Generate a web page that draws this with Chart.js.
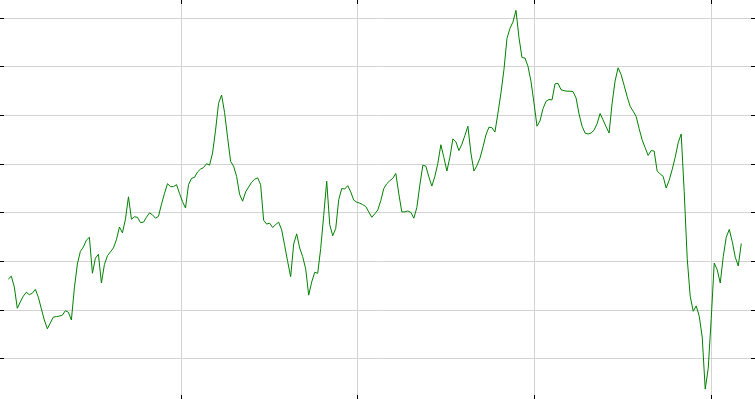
<!DOCTYPE html>
<html>
<head>
<meta charset="utf-8">
<script src="https://cdn.jsdelivr.net/npm/chart.js@4"></script>
<style>
  html, body { margin: 0; padding: 0; background: #fff; }
  #wrap { width: 755px; height: 399px; }
</style>
</head>
<body>
<div id="wrap"><canvas id="c" width="755" height="399"></canvas></div>
<script>
// Series values, one per observation (day index 0..244)
const values = [
  36.4, 37.0, 34.8, 30.4, 31.7, 32.9, 33.7, 33.2, 33.5, 34.3,
  32.7, 30.3, 28.0, 26.2, 27.4, 28.6, 28.7, 28.8, 29.0, 29.9,
  29.6, 28.0, 34.6, 39.5, 42.1, 43.0, 44.4, 45.0, 37.6, 40.7,
  41.5, 35.6, 39.4, 41.2, 42.0, 42.8, 44.5, 47.1, 45.9, 48.7,
  53.3, 48.7, 49.2, 49.1, 48.0, 48.1, 49.1, 50.0, 49.6, 48.9,
  49.3, 51.8, 54.0, 56.0, 55.4, 55.4, 55.8, 54.0, 52.3, 51.0,
  55.8, 57.1, 57.3, 58.4, 59.0, 59.3, 60.1, 59.8, 62.3, 67.0,
  72.5, 74.2, 70.6, 65.5, 60.6, 59.6, 57.5, 53.8, 52.4, 54.3,
  55.3, 56.3, 56.9, 57.2, 55.8, 48.5, 47.7, 47.9, 47.0, 47.6,
  48.1, 46.5, 43.3, 40.0, 36.9, 43.6, 45.7, 42.8, 41.0, 38.5,
  33.1, 35.8, 37.8, 37.6, 42.7, 49.5, 56.5, 47.6, 45.3, 46.8,
  52.7, 55.0, 54.9, 55.6, 54.3, 52.6, 52.2, 52.0, 51.7, 51.3,
  50.2, 49.1, 49.8, 50.6, 52.5, 55.0, 56.0, 56.6, 57.1, 58.1,
  53.9, 50.2, 50.2, 50.4, 50.1, 48.9, 51.1, 55.7, 59.8, 59.6,
  57.4, 55.5, 57.5, 60.2, 64.0, 61.4, 58.6, 61.4, 65.2, 64.6,
  62.8, 64.1, 65.9, 67.8, 62.3, 58.6, 59.7, 61.2, 63.5, 66.0,
  67.6, 67.5, 66.6, 70.5, 74.6, 79.4, 85.8, 87.9, 89.2, 91.6,
  86.0, 81.9, 81.8, 80.1, 77.0, 72.6, 67.8, 68.9, 71.4, 72.9,
  73.3, 73.2, 76.5, 76.6, 75.3, 75.1, 75.0, 75.0, 74.9, 73.6,
  70.3, 67.8, 66.4, 66.2, 66.4, 67.0, 68.3, 70.4, 69.1, 67.7,
  66.4, 72.5, 77.1, 79.8, 78.4, 76.2, 73.9, 71.9, 70.9, 69.8,
  67.3, 65.0, 63.4, 61.8, 62.8, 62.7, 58.6, 58.0, 57.5, 55.1,
  56.7, 58.9, 61.4, 64.4, 66.2, 54.4, 40.7, 32.9, 29.8, 30.9,
  28.8, 24.5, 13.8, 18.1, 28.3, 39.7, 38.3, 35.6, 41.0, 45.0,
  46.6, 44.1, 40.9, 39.1, 43.7
];

// Axis gridline / tick positions (in axis units)
const xTicks = [57.7, 116.2, 175.2, 234.1];
const yTicks = [20, 30, 40, 50, 60, 70, 80, 90];
const xRange = [-1.43, 247.24];
const yRange = [12.6, 92.9];

const points = values.map((v, i) => ({ x: i, y: v }));

const GRID = '#d3d3d3';
const TICK = '#000000';

function gridOpts(onArea) {
  return {
    display: true,
    drawOnChartArea: onArea,
    drawTicks: true,
    tickLength: 4,
    tickWidth: 1,
    tickColor: TICK,
    color: GRID,
    lineWidth: 1
  };
}

function axis(pos, axisId, range, tickVals, onArea) {
  return {
    type: 'linear',
    position: pos,
    axis: axisId,
    min: range[0],
    max: range[1],
    border: { display: false },
    grid: gridOpts(onArea),
    ticks: { display: false },
    afterBuildTicks: (scale) => { scale.ticks = tickVals.map(v => ({ value: v })); }
  };
}

new Chart(document.getElementById('c'), {
  type: 'line',
  data: {
    datasets: [{
      data: points,
      borderColor: '#008000',
      borderWidth: 1,
      pointRadius: 0,
      pointHoverRadius: 0,
      fill: false,
      tension: 0
    }]
  },
  options: {
    responsive: false,
    animation: false,
    events: [],
    layout: { padding: 0 },
    plugins: { legend: { display: false }, tooltip: { enabled: false } },
    scales: {
      x: axis('bottom', 'x', xRange, xTicks, true),
      x2: axis('top', 'x', xRange, xTicks, false),
      y: axis('left', 'y', yRange, yTicks, true),
      y2: axis('right', 'y', yRange, yTicks, false)
    }
  }
});
</script>
</body>
</html>
